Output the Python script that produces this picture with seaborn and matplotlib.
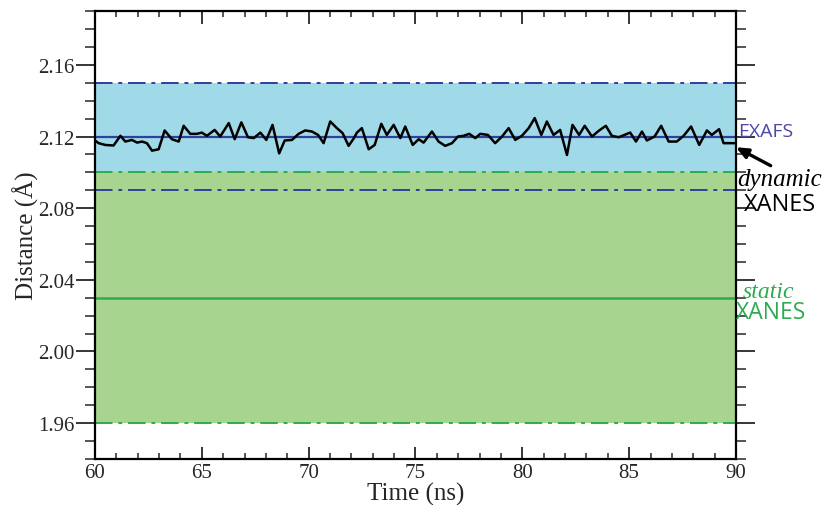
import matplotlib
matplotlib.use("Agg")
import matplotlib.pyplot as plt
from matplotlib.ticker import MultipleLocator
import seaborn as sns
import pandas as pd

sns.set_style("ticks")
plt.rcParams['font.family'] = ['Liberation Serif', 'DejaVu Serif']

# Time (ns) and Fe-O distance (Å) traced along the trajectory
time_ns = [60.0, 60.17, 60.48, 60.87, 61.19, 61.42, 61.73, 61.97, 62.2, 62.43,
           62.67, 62.98, 63.26, 63.6, 63.92, 64.15, 64.46, 64.77, 65.0, 65.24,
           65.6, 65.86, 66.26, 66.54, 66.85, 67.16, 67.43, 67.74, 68.02, 68.31,
           68.62, 68.88, 69.22, 69.53, 69.84, 70.15, 70.44, 70.7, 71.01, 71.32,
           71.59, 71.87, 72.12, 72.26, 72.49, 72.81, 73.09, 73.4, 73.66, 73.98,
           74.29, 74.52, 74.87, 75.15, 75.38, 75.77, 76.08, 76.39, 76.71, 76.99,
           77.25, 77.52, 77.8, 78.03, 78.39, 78.73, 79.05, 79.36, 79.67, 79.98,
           80.3, 80.58, 80.89, 81.15, 81.46, 81.77, 82.09, 82.35, 82.66, 82.92,
           83.26, 83.6, 83.91, 84.19, 84.51, 85.05, 85.32, 85.6, 85.83, 86.19,
           86.5, 86.85, 87.23, 87.55, 87.9, 88.28, 88.64, 88.87, 89.21, 89.42,
           89.73, 90.0]
distance = [2.1178, 2.1163, 2.1153, 2.1150, 2.1204, 2.1172, 2.1181, 2.1166, 2.1172, 2.1163,
            2.1121, 2.1129, 2.1234, 2.1185, 2.1172, 2.1260, 2.1215, 2.1215, 2.1222, 2.1204,
            2.1237, 2.1200, 2.1275, 2.1185, 2.1279, 2.1196, 2.1191, 2.1222, 2.1181, 2.1265,
            2.1106, 2.1178, 2.1181, 2.1215, 2.1234, 2.1228, 2.1209, 2.1163, 2.1284, 2.1247,
            2.1219, 2.1148, 2.1191, 2.1222, 2.1247, 2.1129, 2.1153, 2.1271, 2.1209, 2.1265,
            2.1191, 2.1256, 2.1153, 2.1185, 2.1166, 2.1228, 2.1172, 2.1148, 2.1163, 2.1200,
            2.1204, 2.1215, 2.1191, 2.1215, 2.1209, 2.1163, 2.1200, 2.1247, 2.1181, 2.1204,
            2.1247, 2.1303, 2.1209, 2.1284, 2.1209, 2.1237, 2.1097, 2.1265, 2.1209, 2.1260,
            2.1200, 2.1234, 2.1260, 2.1204, 2.1196, 2.1222, 2.1172, 2.1228, 2.1178, 2.1200,
            2.1260, 2.1172, 2.1172, 2.1204, 2.1256, 2.1153, 2.1234, 2.1209, 2.1241, 2.1163,
            2.1163, 2.1163]

# Reference ranges: (lower bound, centre, upper bound)
exafs_range = [2.09, 2.12, 2.15]
xanes_range = [1.96, 2.03, 2.10]

x_ticks = [60, 65, 70, 75, 80, 85, 90]
y_ticks = [1.96, 2.00, 2.04, 2.08, 2.12, 2.16]

df = pd.DataFrame({'time': time_ns, 'distance': distance})

blue_fill = '#a0d9e7'
blue_line = '#2f3f9c'
green_fill = '#a7d58f'
green_line = '#2eaa50'
dashdot = (0, (9, 3, 2, 3))

fig = plt.figure(figsize=(8.26, 5.06), dpi=100)
ax = fig.add_axes([0.115, 0.091, 0.776, 0.885])

# shaded ranges (green drawn over blue where they overlap)
ax.axhspan(exafs_range[0], exafs_range[2], color=blue_fill, lw=0, zorder=0)
ax.axhspan(xanes_range[0], xanes_range[2], color=green_fill, lw=0, zorder=1)

for y in (exafs_range[0], exafs_range[2]):
    ax.axhline(y, color=blue_line, lw=1.4, ls=dashdot, zorder=2)
ax.axhline(exafs_range[1], color=blue_line, lw=1.6, zorder=2)
for y in (xanes_range[0], xanes_range[2]):
    ax.axhline(y, color=green_line, lw=1.4, ls=dashdot, zorder=2)
ax.axhline(xanes_range[1], color=green_line, lw=1.8, zorder=2)

sns.lineplot(data=df, x='time', y='distance', color='black', linewidth=1.8,
             ax=ax, zorder=3)

ax.set_xlim(60, 90)
ax.set_ylim(1.94, 2.19)
ax.set_xticks(x_ticks)
ax.set_yticks(y_ticks)
ax.set_yticklabels([f'{v:.2f}' for v in y_ticks])
ax.xaxis.set_minor_locator(MultipleLocator(1))
ax.yaxis.set_minor_locator(MultipleLocator(0.01))

ax.tick_params(axis='x', which='major', direction='in', length=9, width=1.3,
               top=True, labelsize=15, pad=3)
ax.tick_params(axis='x', which='minor', direction='in', length=4.5, width=1.1, top=True)
ax.tick_params(axis='y', which='major', direction='out', length=14, width=1.3,
               right=True, labelsize=15, pad=1)
ax.tick_params(axis='y', which='minor', direction='out', length=7, width=1.1, right=True)
for s in ax.spines.values():
    s.set_linewidth(1.6)
    s.set_color('black')

ax.set_xlabel('Time (ns)', fontsize=18, labelpad=0)
ax.set_ylabel('Distance (Å)', fontsize=18, labelpad=-1)

# right-hand annotations
sans = ['Open Sans', 'DejaVu Sans']
ax.text(1.003, 0.732, 'EXAFS', transform=ax.transAxes, color='#4b46a8',
        fontsize=14, family=sans, va='center', ha='left')
ax.text(1.068, 0.625, 'dynamic', transform=ax.transAxes, color='black',
        fontsize=18, style='italic', va='center', ha='center')
ax.text(1.069, 0.570, 'XANES', transform=ax.transAxes, color='black',
        fontsize=17, family=sans, va='center', ha='center')
ax.text(1.050, 0.375, 'static', transform=ax.transAxes, color=green_line,
        fontsize=17, style='italic', va='center', ha='center')
ax.text(1.055, 0.329, 'XANES', transform=ax.transAxes, color=green_line,
        fontsize=16.5, family=sans, va='center', ha='center')
ax.annotate('', xy=(0.996, 0.699), xycoords='axes fraction',
            xytext=(1.058, 0.652), textcoords='axes fraction',
            arrowprops=dict(arrowstyle='-|>,head_length=0.7,head_width=0.3',
                            color='black', lw=2.4),
            annotation_clip=False)

fig.savefig('out.png', dpi=100)
